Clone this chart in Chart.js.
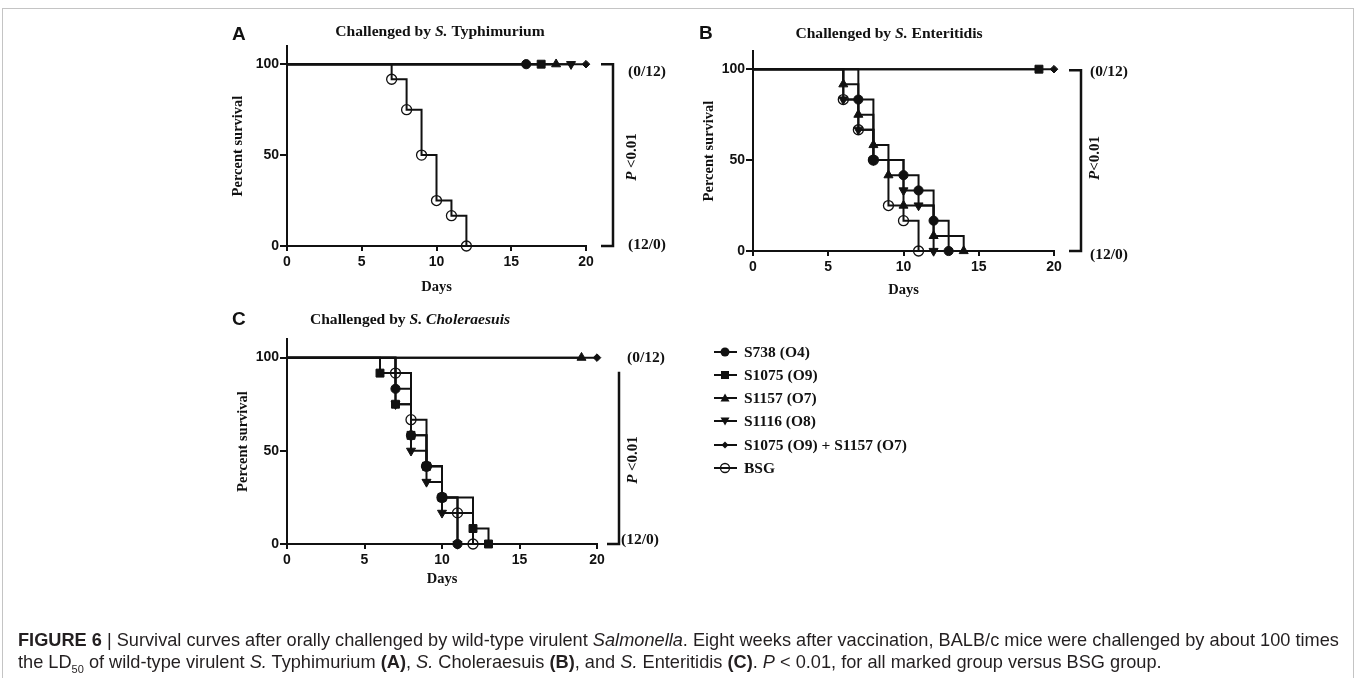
<!DOCTYPE html>
<html>
<head>
<meta charset="utf-8">
<script src="https://cdn.jsdelivr.net/npm/chart.js@4.4.1/dist/chart.umd.min.js"></script>
<style>
body { margin: 0; background: #fff; }
#page { position: relative; width: 1357px; height: 678px; overflow: hidden; background: #fff; }
.frame { position: absolute; left: 2px; top: 8px; width: 1350px; height: 720px; border: 1.5px solid #c4c4c4; }
canvas.panel { position: absolute; left: 0; top: 0; }
#legend { position: absolute; left: 714px; top: 340px; font: bold 15.5px "Liberation Serif", serif; color: #111; }
#legend .row { position: absolute; left: 0; height: 20px; white-space: nowrap; display: flex; align-items: center; }
#legend svg { margin-right: 7px; }
.caption { position: absolute; left: 18px; font-family: "Liberation Sans", Arial, sans-serif; font-size: 18.2px; color: #231f20; white-space: nowrap; }
.caption b { font-weight: bold; }
</style>
</head>
<body>
<div id="page">
  <div class="frame"></div>
  <canvas id="chartA" class="panel" width="1357" height="678"></canvas>
  <canvas id="chartB" class="panel" width="1357" height="678"></canvas>
  <canvas id="chartC" class="panel" width="1357" height="678"></canvas>
  <div id="legend"></div>
  <div class="caption" style="top:630px"><b>FIGURE 6</b> | Survival curves after orally challenged by wild-type virulent <i>Salmonella</i>. Eight weeks after vaccination, BALB/c mice were challenged by about 100 times</div>
  <div class="caption" style="top:652px">the LD<sub style="font-size:11px">50</sub> of wild-type virulent <i>S.</i> Typhimurium <b>(A)</b>, <i>S.</i> Choleraesuis <b>(B)</b>, and <i>S.</i> Enteritidis <b>(C)</b>. <i>P</i> &lt; 0.01, for all marked group versus BSG group.</div>
</div>
<script>
// groups, in legend order
const groups = ['S738 (O4)', 'S1075 (O9)', 'S1157 (O7)', 'S1116 (O8)', 'S1075 (O9) + S1157 (O7)', 'BSG'];
const dayTicks = [0, 5, 10, 15, 20];
const pctTicks = [0, 50, 100];

// Panel A - S. Typhimurium (days of event, percent surviving after it)
const aS738Days = [0, 16];                 const aS738Pct = [100, 100];
const aS1075Days = [0, 17];                const aS1075Pct = [100, 100];
const aS1157Days = [0, 18];                const aS1157Pct = [100, 100];
const aS1116Days = [0, 19];                const aS1116Pct = [100, 100];
const aComboDays = [0, 20];                const aComboPct = [100, 100];
const aBsgDays = [0, 7, 8, 9, 10, 11, 12]; const aBsgPct = [100, 91.7, 75, 50, 25, 16.7, 0];

// Panel B - S. Enteritidis
const bS738Days = [0, 7, 8, 10, 11, 12, 13];     const bS738Pct = [100, 83.3, 50, 41.7, 33.3, 16.7, 0];
const bS1075Days = [0, 19];                      const bS1075Pct = [100, 100];
const bS1157Days = [0, 6, 7, 8, 9, 10, 12, 14];  const bS1157Pct = [100, 91.7, 75, 58.3, 41.7, 25, 8.3, 0];
const bS1116Days = [0, 6, 7, 8, 10, 11, 12];     const bS1116Pct = [100, 83.3, 66.7, 50, 33.3, 25, 0];
const bComboDays = [0, 20];                      const bComboPct = [100, 100];
const bBsgDays = [0, 6, 7, 8, 9, 10, 11];        const bBsgPct = [100, 83.3, 66.7, 50, 25, 16.7, 0];

// Panel C - S. Choleraesuis
const cS738Days = [0, 7, 8, 9, 10, 11];          const cS738Pct = [100, 83.3, 58.3, 41.7, 25, 0];
const cS1075Days = [0, 6, 7, 8, 9, 10, 12, 13];  const cS1075Pct = [100, 91.7, 75, 58.3, 41.7, 25, 8.3, 0];
const cS1157Days = [0, 19];                      const cS1157Pct = [100, 100];
const cS1116Days = [0, 7, 8, 9, 10, 11];         const cS1116Pct = [100, 75, 50, 33.3, 16.7, 0];
const cComboDays = [0, 20];                      const cComboPct = [100, 100];
const cBsgDays = [0, 7, 8, 9, 10, 11, 12];       const cBsgPct = [100, 91.7, 66.7, 41.7, 25, 16.7, 0];

const INK = '#111';
const SERIF = '"Liberation Serif", "Times New Roman", serif';
const SANS = '"Liberation Sans", Arial, sans-serif';

// marker look for each group
const markers = [
  { style: 'circle', radius: 4.6, rot: 0, fill: INK },
  { style: 'rect', radius: 5.6, rot: 0, fill: INK },
  { style: 'triangle', radius: 5.2, rot: 0, fill: INK },
  { style: 'triangle', radius: 5.2, rot: 180, fill: INK },
  { style: 'rectRot', radius: 3.8, rot: 0, fill: INK },
  { style: 'circle', radius: 5, rot: 0, fill: 'rgba(0,0,0,0)' }
];

function toPoints(days, pct) {
  return days.map((d, i) => ({ x: d, y: pct[i] }));
}

function makeSets(list) {
  return list.map((s, i) => ({
    label: groups[i],
    data: toPoints(s[0], s[1]),
    stepped: 'before',
    borderColor: INK,
    borderWidth: 2,
    clip: false,
    pointStyle: markers[i].style,
    pointRotation: markers[i].rot,
    pointRadius: ctx => ctx.dataIndex === 0 ? 0 : markers[i].radius,
    pointBackgroundColor: markers[i].fill,
    pointBorderColor: INK,
    pointBorderWidth: i === 5 ? 1.3 : 1
  }));
}

function drawRuns(ctx, runs, x, y, align) {
  let total = 0;
  runs.forEach(r => { ctx.font = r.font; total += ctx.measureText(r.t).width; });
  let cx = align === 'center' ? x - total / 2 : x;
  ctx.textAlign = 'left';
  ctx.textBaseline = 'middle';
  runs.forEach(r => {
    ctx.font = r.font;
    ctx.fillText(r.t, cx, y);
    cx += ctx.measureText(r.t).width;
  });
}

const decor = {
  id: 'decor',
  afterDraw(chart, args, o) {
    const ctx = chart.ctx;
    const y = chart.scales.y;
    ctx.save();
    ctx.fillStyle = INK;
    ctx.strokeStyle = INK;
    // panel letter
    ctx.font = 'bold 19px ' + SANS;
    ctx.textAlign = 'left';
    ctx.textBaseline = 'middle';
    ctx.fillText(o.letter, o.letterX, o.letterY);
    // title
    const tb = 'bold 15.6px ' + SERIF, ti = 'italic bold 15.6px ' + SERIF;
    drawRuns(ctx, o.title.map(p => ({ t: p[0], font: p[1] ? ti : tb })), o.titleX, o.titleY, 'center');
    // bracket
    const yTop = y.getPixelForValue(100) + o.bracketDrop;
    const yBot = y.getPixelForValue(0);
    ctx.lineWidth = 2.5;
    ctx.beginPath();
    if (o.topTick) { ctx.moveTo(o.bx - o.tick, yTop); ctx.lineTo(o.bx, yTop); } else { ctx.moveTo(o.bx, yTop); }
    ctx.lineTo(o.bx, yBot);
    ctx.lineTo(o.bx - o.tick, yBot);
    ctx.stroke();
    ctx.font = 'bold 15.5px ' + SERIF;
    ctx.fillText('(0/12)', o.lx, o.topLabelY);
    ctx.fillText('(12/0)', o.lx2, o.botLabelY);
    // P value, rotated
    ctx.translate(o.px, o.py);
    ctx.rotate(-Math.PI / 2);
    drawRuns(ctx, [{ t: 'P', font: 'italic bold 15px ' + SERIF }, { t: o.pText, font: 'bold 15px ' + SERIF }], 0, 0, 'center');
    ctx.restore();
  }
};

function makeChart(id, sets, area, yW, xH, deco) {
  new Chart(document.getElementById(id), {
    type: 'line',
    data: { datasets: makeSets(sets) },
    plugins: [decor],
    options: {
      responsive: false,
      animation: false,
      layout: { padding: { left: area.left - yW, right: 1357 - area.right, top: area.top, bottom: 678 - area.bottom - xH } },
      plugins: { legend: { display: false }, tooltip: { enabled: false }, decor: deco },
      scales: {
        x: {
          type: 'linear', min: 0, max: 20,
          afterBuildTicks: s => { s.ticks = dayTicks.map(v => ({ value: v })); },
          afterFit: s => { s.height = xH; },
          border: { color: INK, width: 2 },
          grid: { drawOnChartArea: false, drawTicks: true, tickLength: 5, color: INK, lineWidth: 2 },
          ticks: { color: INK, padding: 3, font: { family: SANS, size: 14, weight: 'bold' } },
          title: { display: true, text: 'Days', color: INK, font: { family: SERIF, size: 14.5, weight: 'bold' } }
        },
        y: {
          type: 'linear', min: 0, max: 110,
          afterBuildTicks: s => { s.ticks = pctTicks.map(v => ({ value: v })); },
          afterFit: s => { s.width = yW; },
          border: { color: INK, width: 2 },
          grid: { drawOnChartArea: false, drawTicks: true, tickLength: 7, color: INK, lineWidth: 2 },
          ticks: { color: INK, padding: 1, font: { family: SANS, size: 14, weight: 'bold' } },
          title: { display: true, text: 'Percent survival', color: INK, font: { family: SERIF, size: 14.5, weight: 'bold' } }
        }
      }
    }
  });
}

makeChart('chartA',
  [[aS738Days, aS738Pct], [aS1075Days, aS1075Pct], [aS1157Days, aS1157Pct], [aS1116Days, aS1116Pct], [aComboDays, aComboPct], [aBsgDays, aBsgPct]],
  { left: 287, right: 586, top: 46, bottom: 246 }, 61, 54,
  { letter: 'A', letterX: 232, letterY: 35, title: [['Challenged by ', 0], ['S.', 1], [' Typhimurium', 0]], titleX: 440, titleY: 32,
    bx: 613, tick: 12, topTick: true, bracketDrop: 0, lx: 628, lx2: 628, topLabelY: 72, botLabelY: 245, px: 632, py: 157, pText: ' <0.01' });

makeChart('chartB',
  [[bS738Days, bS738Pct], [bS1075Days, bS1075Pct], [bS1157Days, bS1157Pct], [bS1116Days, bS1116Pct], [bComboDays, bComboPct], [bBsgDays, bBsgPct]],
  { left: 753, right: 1054, top: 51, bottom: 251 }, 56, 52,
  { letter: 'B', letterX: 699, letterY: 34, title: [['Challenged by ', 0], ['S.', 1], [' Enteritidis', 0]], titleX: 889, titleY: 34,
    bx: 1081, tick: 12, topTick: true, bracketDrop: 1, lx: 1090, lx2: 1090, topLabelY: 72, botLabelY: 255, px: 1095, py: 158, pText: '<0.01' });

makeChart('chartC',
  [[cS738Days, cS738Pct], [cS1075Days, cS1075Pct], [cS1157Days, cS1157Pct], [cS1116Days, cS1116Pct], [cComboDays, cComboPct], [cBsgDays, cBsgPct]],
  { left: 287, right: 597, top: 339, bottom: 544 }, 56, 48,
  { letter: 'C', letterX: 232, letterY: 320, title: [['Challenged by ', 0], ['S. Choleraesuis', 1]], titleX: 410, titleY: 320,
    bx: 619, tick: 12, topTick: false, bracketDrop: 14, lx: 627, lx2: 621, topLabelY: 358, botLabelY: 540, px: 633, py: 460, pText: ' <0.01' });

// legend
const legend = document.getElementById('legend');
const rowTops = [2, 25, 48, 71, 95, 118];
const shapes = [
  '<circle cx="11" cy="7" r="4.5" fill="#111"/>',
  '<rect x="7" y="3" width="8" height="8" fill="#111"/>',
  '<polygon points="11,2.5 15.5,10.5 6.5,10.5" fill="#111"/>',
  '<polygon points="6.5,3.5 15.5,3.5 11,11.5" fill="#111"/>',
  '<polygon points="11,3.5 14.5,7 11,10.5 7.5,7" fill="#111"/>',
  '<circle cx="11" cy="7" r="4.5" fill="none" stroke="#111" stroke-width="1.3"/>'
];
groups.forEach((g, i) => {
  const row = document.createElement('div');
  row.className = 'row';
  row.style.top = rowTops[i] + 'px';
  row.innerHTML = '<svg width="23" height="14"><line x1="0" y1="7" x2="23" y2="7" stroke="#111" stroke-width="2"/>' + shapes[i] + '</svg><span>' + g + '</span>';
  legend.appendChild(row);
});
</script>
</body>
</html>
